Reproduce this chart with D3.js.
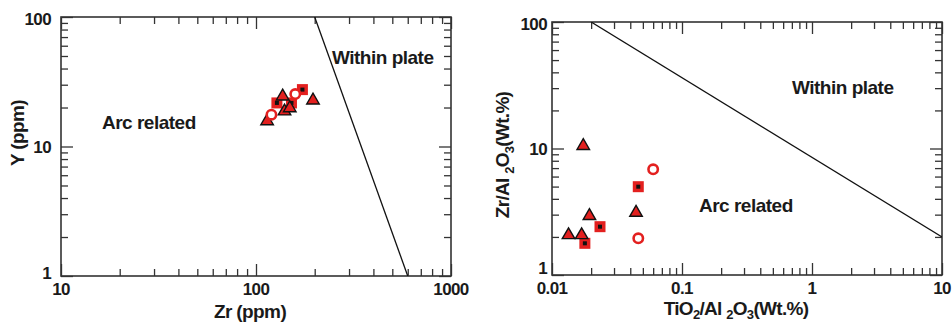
<!DOCTYPE html>
<html>
<head>
<meta charset="utf-8">
<script src="https://cdn.jsdelivr.net/npm/d3@7"></script>
<style>
  html, body { margin: 0; padding: 0; background: #fff; }
  svg { display: block; }
  text { font-family: "Liberation Sans", Arial, sans-serif; font-weight: bold; fill: #1a1a1a; }
</style>
</head>
<body>
<div id="chart"></div>
<script>
// left panel: Zr vs Y (ppm)
const zrTri = [114, 137, 140, 149, 196];
const yTri = [15.7, 24.4, 18.7, 19.8, 22.7];
const zrSq = [128, 152, 173];
const ySq = [21.7, 21.7, 27.5];
const zrCirc = [120, 159];
const yCirc = [17.6, 25.4];
const leftBoundary = [[200, 100], [600, 1]];
const leftXMajor = [10, 100, 1000];
const leftYMajor = [1, 10, 100];

// right panel: TiO2/Al2O3 vs Zr/Al2O3
const tiTri = [0.0174, 0.0194, 0.0443, 0.0134, 0.0169];
const zaTri = [10.5, 2.93, 3.11, 2.07, 2.07];
const tiSq = [0.0461, 0.0234, 0.0179];
const zaSq = [4.99, 2.41, 1.78];
const tiCirc = [0.060, 0.0461];
const zaCirc = [6.85, 1.95];
const rightBoundary = [[0.02, 100], [10, 2]];
const rightXMajor = [0.01, 0.1, 1, 10];
const rightYMajor = [1, 10, 100];

const W = 952, H = 322;
const red = "#e3201f";

const svg = d3.select("#chart").append("svg")
  .attr("width", W).attr("height", H)
  .attr("viewBox", [0, 0, W, H]);

function panel(cfg) {
  let g = svg.append("g");
  let x = d3.scaleLog().domain(cfg.xDomain).range([cfg.x0, cfg.x1]);
  let y = d3.scaleLog().domain(cfg.yDomain).range([cfg.y1, cfg.y0]);

  let clipId = "clip" + cfg.id;
  svg.append("clipPath").attr("id", clipId)
    .append("rect")
    .attr("x", cfg.x0).attr("y", cfg.y0)
    .attr("width", cfg.x1 - cfg.x0).attr("height", cfg.y1 - cfg.y0);

  // inward ticks on all four sides, minor then major
  let sides = [
    [d3.axisBottom(x), `translate(0,${cfg.y1})`],
    [d3.axisTop(x), `translate(0,${cfg.y0})`],
    [d3.axisLeft(y), `translate(${cfg.x0},0)`],
    [d3.axisRight(y), `translate(${cfg.x1},0)`]
  ];
  sides.forEach(([ax, tr], i) => {
    let major = i < 2 ? cfg.xMajor : cfg.yMajor;
    let sc = i < 2 ? x : y;
    let all = sc.ticks();
    let a = g.append("g").attr("transform", tr)
      .call(ax.tickValues(all.filter(v => !major.some(m => Math.abs(m - v) / m < 1e-6)))
        .tickSize(-7).tickFormat(""));
    a.select(".domain").remove();
    let b = g.append("g").attr("transform", tr)
      .call(ax.tickValues(major).tickSize(-12).tickFormat(""));
    b.select(".domain").remove();
    g.selectAll(".tick line").attr("stroke", "#333").attr("stroke-width", 1.3);
  });

  g.append("rect")
    .attr("x", cfg.x0).attr("y", cfg.y0)
    .attr("width", cfg.x1 - cfg.x0).attr("height", cfg.y1 - cfg.y0)
    .attr("fill", "none").attr("stroke", "#333").attr("stroke-width", 1.6);

  // tick labels
  g.append("g").selectAll("text").data(cfg.xMajor).join("text")
    .attr("x", d => x(d)).attr("y", cfg.y1 + 19)
    .attr("text-anchor", "middle")
    .attr("font-size", 17).attr("letter-spacing", -0.6)
    .text(d => d3.format("~g")(d));
  g.append("g").selectAll("text").data(cfg.yMajor).join("text")
    .attr("x", cfg.x0 - cfg.yLabelGap)
    .attr("y", (d, i) => y(d) - (i === 0 ? cfg.lowShift : 0) + (i === cfg.yMajor.length - 1 ? 2 : 0))
    .attr("dy", "0.36em")
    .attr("text-anchor", "end")
    .attr("font-size", 17).attr("letter-spacing", -0.6)
    .text(d => d3.format("~g")(d));

  // boundary line
  g.append("line")
    .attr("clip-path", `url(#${clipId})`)
    .attr("x1", x(cfg.line[0][0])).attr("y1", y(cfg.line[0][1]))
    .attr("x2", x(cfg.line[1][0])).attr("y2", y(cfg.line[1][1]))
    .attr("stroke", "#111").attr("stroke-width", 1.3);

  // region labels
  cfg.regions.forEach(r => {
    g.append("text").attr("x", r.x).attr("y", r.y)
      .attr("font-size", 19).attr("letter-spacing", -0.5)
      .text(r.t);
  });

  // markers
  let m = g.append("g");
  m.selectAll("g.sq").data(d3.zip(cfg.sq[0], cfg.sq[1])).join("g")
    .attr("class", "sq")
    .attr("transform", d => `translate(${x(d[0])},${y(d[1])})`)
    .each(function () {
      d3.select(this).append("rect").attr("x", -5.5).attr("y", -5.5)
        .attr("width", 11).attr("height", 11).attr("fill", red);
      d3.select(this).append("rect").attr("x", -2).attr("y", -2)
        .attr("width", 4).attr("height", 4).attr("fill", "#111");
    });
  m.selectAll("path.tri").data(d3.zip(cfg.tri[0], cfg.tri[1])).join("path")
    .attr("class", "tri")
    .attr("transform", d => `translate(${x(d[0])},${y(d[1])})`)
    .attr("d", d3.symbol(d3.symbolTriangle, 68))
    .attr("fill", red).attr("stroke", "#111").attr("stroke-width", 1.4);
  m.selectAll("circle.ci").data(d3.zip(cfg.ci[0], cfg.ci[1])).join("circle")
    .attr("class", "ci")
    .attr("cx", d => x(d[0])).attr("cy", d => y(d[1])).attr("r", 4.7)
    .attr("fill", "#fff").attr("stroke", red).attr("stroke-width", 2.6);

  return g;
}

panel({
  id: "L", x0: 61, x1: 451, y0: 17, y1: 276,
  xDomain: [10, 1000], yDomain: [1, 100],
  xMajor: leftXMajor, yMajor: leftYMajor, yLabelGap: 10, lowShift: 3,
  line: leftBoundary,
  regions: [{ t: "Arc related", x: 102, y: 129 }, { t: "Within plate", x: 332, y: 64 }],
  tri: [zrTri, yTri], sq: [zrSq, ySq], ci: [zrCirc, yCirc]
});

panel({
  id: "R", x0: 552, x1: 942, y0: 22, y1: 275,
  xDomain: [0.01, 10], yDomain: [1, 100],
  xMajor: rightXMajor, yMajor: rightYMajor, yLabelGap: 5, lowShift: 7,
  line: rightBoundary,
  regions: [{ t: "Arc related", x: 699, y: 212 }, { t: "Within plate", x: 792, y: 94 }],
  tri: [tiTri, zaTri], sq: [tiSq, zaSq], ci: [tiCirc, zaCirc]
});

// axis titles
svg.append("text").attr("x", 250).attr("y", 318)
  .attr("text-anchor", "middle").attr("font-size", 19).attr("letter-spacing", -0.6)
  .text("Zr (ppm)");
svg.append("text")
  .attr("transform", "translate(24,133) rotate(-90)")
  .attr("text-anchor", "middle").attr("font-size", 19).attr("letter-spacing", -0.6)
  .text("Y (ppm)");

// chemical formula with subscripts; shift carried on the following tspan
function chem(sel, parts, d) {
  let shift = 0;
  parts.forEach(p => {
    if (p.sub) {
      sel.append("tspan").attr("dy", d - shift).attr("font-size", 13).text(p.sub);
      shift = d;
    } else {
      sel.append("tspan").attr("dy", -shift).text(p.t);
      shift = 0;
    }
  });
}
let xt = svg.append("text").attr("x", 736).attr("y", 315)
  .attr("text-anchor", "middle").attr("font-size", 19).attr("letter-spacing", -0.7);
chem(xt, [{ t: "TiO" }, { sub: "2" }, { t: "/Al " }, { sub: "2" }, { t: "O" }, { sub: "3" }, { t: "(Wt.%)" }], 3.5);
let yt = svg.append("text").attr("transform", "translate(509,155) rotate(-90)")
  .attr("text-anchor", "middle").attr("font-size", 19).attr("letter-spacing", -0.7);
chem(yt, [{ t: "Zr/Al " }, { sub: "2" }, { t: "O" }, { sub: "3" }, { t: "(Wt.%)" }], 5);
</script>
</body>
</html>
